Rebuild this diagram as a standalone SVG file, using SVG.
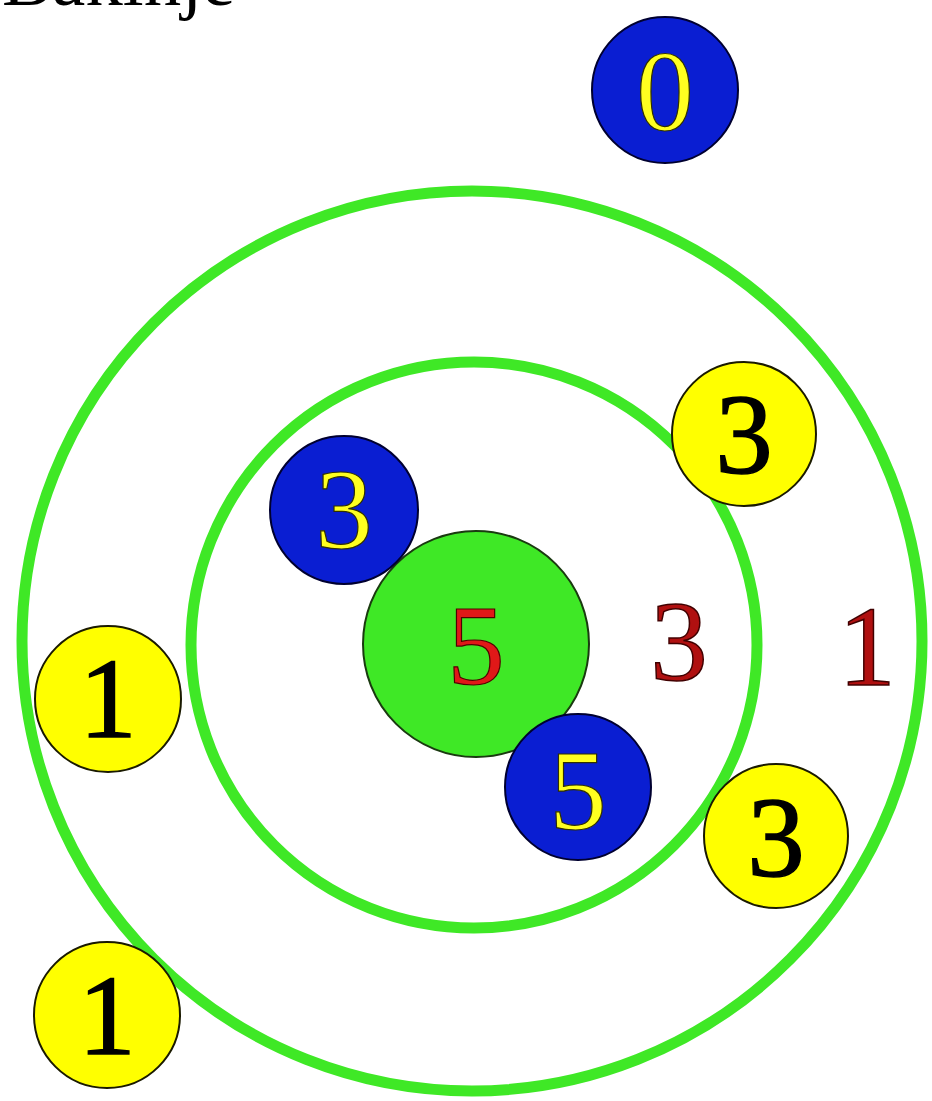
<svg xmlns="http://www.w3.org/2000/svg" width="932" height="1101" viewBox="0 0 932 1101">
<style>
.ring{fill:none;stroke:#3fe826;stroke-width:11}
.yel{fill:#ffff00;stroke:#1a1a00;stroke-width:2}
.blu{fill:#0a1ed2;stroke:#000030;stroke-width:2}
.grn{fill:#3fe826;stroke:#1a3a10;stroke-width:2}
.num{font-family:"Liberation Serif","Times New Roman",serif;font-size:115px;text-anchor:middle}
.blk{fill:#000;stroke:#000;stroke-width:1.5}
.ytx{fill:#ffff20;stroke:#303000;stroke-width:1.2}
.rtx{fill:#e01818;stroke:#500000;stroke-width:1.2}
.dtx{fill:#b01010;stroke:#400000;stroke-width:1.5}
</style>
<rect width="932" height="1101" fill="#ffffff"/>
<text x="2" y="5" font-family="'Liberation Serif','Times New Roman',serif" font-size="75" fill="#000">Bakinje</text>
<g id="rings">
<circle class="ring" cx="472" cy="641" r="450"/>
<circle class="ring" cx="474" cy="645" r="283"/>
</g>
<g id="node-center"><circle class="grn" cx="476" cy="644" r="113"/><text class="num rtx" x="476" y="684" font-size="125">5</text></g>
<g id="node-blue0"><circle class="blu" cx="665" cy="90" r="73"/><text class="num ytx" x="665" y="130">0</text></g>
<g id="node-blue3"><circle class="blu" cx="344" cy="510" r="74"/><text class="num ytx" x="344" y="548">3</text></g>
<g id="node-blue5"><circle class="blu" cx="578" cy="787" r="73"/><text class="num ytx" x="578" y="829">5</text></g>
<g id="node-yel3a"><circle class="yel" cx="744" cy="434" r="72"/><text class="num blk" x="744" y="473">3</text></g>
<g id="node-yel3b"><circle class="yel" cx="776" cy="836" r="72"/><text class="num blk" x="776" y="876">3</text></g>
<g id="node-yel1a"><circle class="yel" cx="108" cy="699" r="73"/><text class="num blk" x="108" y="737">1</text></g>
<g id="node-yel1b"><circle class="yel" cx="107" cy="1015" r="73"/><text class="num blk" x="107" y="1054">1</text></g>
<g id="labels">
<text class="num dtx" x="679" y="680">3</text>
<text class="num dtx" x="867" y="685">1</text>
</g>
</svg>
